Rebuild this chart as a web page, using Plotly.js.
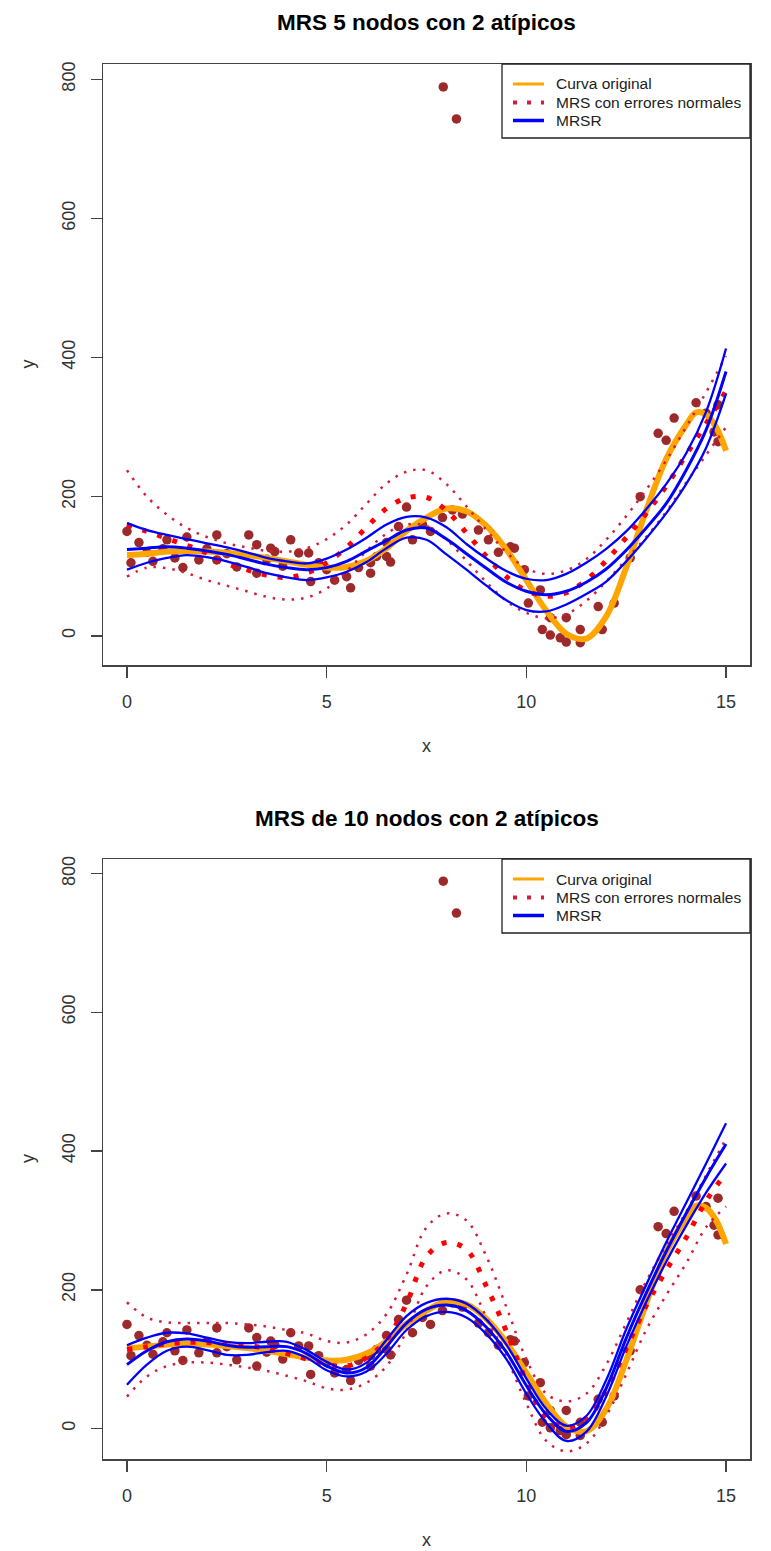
<!DOCTYPE html>
<html>
<head>
<meta charset="utf-8">
<script src="https://cdn.plot.ly/plotly-3.0.1.min.js"></script>
<style>html,body{margin:0;padding:0;background:#fff;}#chart{width:771px;height:1551px;}</style>
</head>
<body>
<div id="chart"></div>
<script>
// ---------- data ----------
const titles = ["MRS 5 nodos con 2 atípicos", "MRS de 10 nodos con 2 atípicos"];
const legendLabels = ["Curva original", "MRS con errores normales", "MRSR"];
const xTicks = [0, 5, 10, 15];
const yTicks = [0, 200, 400, 600, 800];

// observed points (same sample in both panels)
const ptsX = [0.0,0.1,0.3,0.5,0.65,0.9,1.0,1.2,1.4,1.5,1.8,2.0,2.25,2.25,2.5,2.75,3.05,3.25,3.25,3.5,3.6,3.7,3.9,4.1,4.3,4.55,4.6,4.8,5.0,5.2,5.5,5.6,5.8,6.1,6.1,6.25,6.5,6.5,6.6,6.8,7.0,7.15,7.4,7.6,7.9,8.15,8.4,8.8,9.05,9.3,9.6,9.7,9.95,10.05,10.35,10.4,10.6,10.6,10.85,11.0,11.0,11.35,11.35,11.8,11.9,12.2,12.6,12.85,13.3,13.5,13.7,14.25,14.5,14.7,14.8,14.8,7.92,8.25];
const ptsY = [150,105,134,120,107,125,138,112,98,142,109,125,145,109,118,99,145,131,90,110,126,121,100,138,119,119,78,105,95,80,85,69,98,105,90,114,134,114,106,157,185,138,160,150,170,181,175,152,138,120,128,126,95,47,66,9,26,1,-3,26,-9,-10,9,42,9,47,112,200,291,281,313,335,320,293,279,332,789,743];

// true curve
const xOrig = [0,0.5,1,1.5,2,2.5,3,3.5,4,4.5,5,5.5,6,6.5,7,7.5,8,8.5,9,9.5,10,10.5,11,11.5,12,12.5,13,13.5,14,14.25,14.5,14.75,15];
const yOrig = [116,118,121,122,121,119,116,112,107,102,98,99,108,126,151,170,183,179,158,124,80,36,3,-4,28,98,180,254,303,321,318,300,266];

// common grid for fitted curves
const xGrid = [0,0.5,1,1.5,2,2.5,3,3.5,4,4.5,5,5.5,6,6.5,7,7.5,8,8.5,9,9.5,10,10.5,11,11.5,12,12.5,13,13.5,14,14.5,15];

// panel 1: 5 knots
const mrs5    = [160,150,140,130,119,104,95,87,84,90,105,127,156,183,198,199,180,148,114,85,65,57,62,80,108,141,176,215,260,305,352];
const mrs5Up  = [238,200,174,155,142,133,127,122,121,126,139,160,190,219,236,238,218,186,152,120,97,89,94,110,138,172,210,252,300,350,402];
const mrs5Lo  = [85,98,97,90,80,72,64,56,52,55,68,93,122,147,160,158,138,108,77,50,33,25,31,50,78,110,142,178,220,260,300];
const mrsr5   = [124,126,128,126,122,117,110,103,98,95,98,107,122,137,152,155,139,118,97,77,64,59,64,77,96,123,155,190,238,296,380];
const mrsr5Up = [162,152,145,139,133,127,120,112,107,104,111,124,141,160,171,170,156,132,111,93,82,80,89,105,125,150,182,218,262,322,413];
const mrsr5Lo = [95,105,112,116,113,107,99,90,84,80,84,92,106,126,141,138,117,95,72,51,37,35,45,60,78,107,140,176,218,270,348];

// panel 2: 10 knots
const mrs10    = [114,118,122,124,124,122,120,115,108,100,92,90,102,128,180,248,268,258,205,140,68,15,2,12,55,115,177,228,275,328,368];
const mrs10Up  = [182,160,153,152,152,152,150,147,142,137,126,124,136,165,222,290,310,300,248,175,100,50,39,50,92,152,212,264,312,365,418];
const mrs10Lo  = [46,75,90,95,95,92,88,83,76,68,58,56,66,90,140,205,228,215,160,103,36,-18,-33,-22,18,78,142,192,238,290,320];
const mrsr10   = [92,112,125,129,126,120,117,118,118,108,90,80,88,118,152,172,178,170,146,110,62,20,-4,8,58,130,195,255,310,362,410];
const mrsr10Up = [120,131,138,137,131,125,123,125,125,113,96,85,95,128,162,181,187,180,157,121,72,28,4,18,70,143,207,268,325,382,440];
const mrsr10Lo = [63,92,112,118,113,106,106,110,112,102,84,75,82,108,142,162,168,160,136,100,50,8,-18,-5,46,118,182,240,292,340,382];

// ---------- styling ----------
const W = 771, H = 1551;
const C_PT = '#9c2a2a', C_OR = '#FFA500', C_RED = '#FF0000', C_BAND = '#d41c3c', C_BLUE = '#0000FF';
const FONT = 'Arial, "Liberation Sans", sans-serif';

function panelTraces(xa, ya, fit, up, lo, rfit, rup, rlo) {
  const base = {xaxis: xa, yaxis: ya, hoverinfo: 'skip', showlegend: false};
  const sp = {shape: 'spline', smoothing: 1};
  return [
    Object.assign({}, base, {x: ptsX, y: ptsY, mode: 'markers', type: 'scatter',
      marker: {color: C_PT, size: 9.5, line: {width: 0}}}),
    Object.assign({}, base, {x: xOrig, y: yOrig, mode: 'lines', type: 'scatter',
      line: Object.assign({color: C_OR, width: 6}, sp)}),
    Object.assign({}, base, {x: xGrid, y: up, mode: 'lines', type: 'scatter',
      line: Object.assign({color: C_BAND, width: 2.5, dash: '2.5px,7px'}, sp)}),
    Object.assign({}, base, {x: xGrid, y: lo, mode: 'lines', type: 'scatter',
      line: Object.assign({color: C_BAND, width: 2.5, dash: '2.5px,7px'}, sp)}),
    Object.assign({}, base, {x: xGrid, y: fit, mode: 'lines', type: 'scatter',
      line: Object.assign({color: C_RED, width: 5, dash: '5px,11px'}, sp)}),
    Object.assign({}, base, {x: xGrid, y: rup, mode: 'lines', type: 'scatter',
      line: Object.assign({color: C_BLUE, width: 2.3}, sp)}),
    Object.assign({}, base, {x: xGrid, y: rlo, mode: 'lines', type: 'scatter',
      line: Object.assign({color: C_BLUE, width: 2.3}, sp)}),
    Object.assign({}, base, {x: xGrid, y: rfit, mode: 'lines', type: 'scatter',
      line: Object.assign({color: C_BLUE, width: 3}, sp)})
  ];
}

const data = [].concat(
  panelTraces('x', 'y', mrs5, mrs5Up, mrs5Lo, mrsr5, mrsr5Up, mrsr5Lo),
  panelTraces('x2', 'y2', mrs10, mrs10Up, mrs10Lo, mrsr10, mrsr10Up, mrsr10Lo)
);

const px = v => v / W;
const py = v => 1 - v / H;
const plotL = 103, plotR = 750;
const panels = [{top: 64, bottom: 665}, {top: 859, bottom: 1459}];

function xAxis(anchor) {
  return {domain: [px(plotL), px(plotR)], range: [-0.6, 15.6], anchor: anchor,
    tickvals: xTicks, ticktext: xTicks.map(String), ticks: 'outside', ticklen: 11, tickwidth: 1.5,
    tickcolor: '#444', showline: true, mirror: true, linecolor: '#444', linewidth: 1.5,
    showgrid: false, zeroline: false, ticklabelstandoff: 9,
    tickfont: {family: FONT, size: 18, color: '#333'}};
}
function yAxis(anchor, dom, range) {
  return {domain: dom, range: range, anchor: anchor,
    tickvals: yTicks, ticktext: yTicks.map(String), ticks: 'outside', ticklen: 11, tickwidth: 1.5,
    tickcolor: '#444', showline: true, mirror: true, linecolor: '#444', linewidth: 1.5,
    showgrid: false, zeroline: false, tickangle: -90, ticklabelstandoff: 8,
    tickfont: {family: FONT, size: 18, color: '#333'}};
}

const annotations = [];
const shapes = [];
panels.forEach((p, i) => {
  const cx = (plotL + plotR) / 2;
  const cy = (p.top + p.bottom) / 2;
  annotations.push({xref: 'paper', yref: 'paper', x: px(cx), y: py(p.top - 41), text: '<b>' + titles[i] + '</b>',
    showarrow: false, xanchor: 'center', yanchor: 'middle', font: {family: FONT, size: 22.5, color: '#000'}});
  annotations.push({xref: 'paper', yref: 'paper', x: px(cx), y: py(p.bottom + 81), text: 'x',
    showarrow: false, xanchor: 'center', yanchor: 'middle', font: {family: FONT, size: 18, color: '#333'}});
  annotations.push({xref: 'paper', yref: 'paper', x: px(28), y: py(cy), text: 'y', textangle: -90,
    showarrow: false, xanchor: 'center', yanchor: 'middle', font: {family: FONT, size: 18, color: '#333'}});
  // legend box
  const lt = p.top, lb = p.top + 74, ll = 502, lr = plotR;
  shapes.push({type: 'rect', xref: 'paper', yref: 'paper', x0: px(ll), x1: px(lr), y0: py(lb), y1: py(lt),
    line: {color: '#222', width: 1.3}, fillcolor: '#fff', layer: 'above'});
  const rows = [lt + 20, lt + 38.5, lt + 56.5];
  const styles = [
    {color: C_OR, width: 3},
    {color: '#d41c3c', width: 4, dash: '4px,10px'},
    {color: C_BLUE, width: 3.5}
  ];
  rows.forEach((ry, k) => {
    shapes.push({type: 'line', xref: 'paper', yref: 'paper', x0: px(513), x1: px(544), y0: py(ry), y1: py(ry),
      line: styles[k], layer: 'above'});
    annotations.push({xref: 'paper', yref: 'paper', x: px(554), y: py(ry), text: legendLabels[k],
      showarrow: false, xanchor: 'left', yanchor: 'middle', font: {family: FONT, size: 15.5, color: '#222'}});
  });
});

const layout = {
  width: W, height: H,
  margin: {l: 0, r: 0, t: 0, b: 0},
  paper_bgcolor: '#fff', plot_bgcolor: '#fff',
  showlegend: false,
  xaxis: xAxis('y'),
  yaxis: yAxis('x', [py(panels[0].bottom), py(panels[0].top)], [-42, 822]),
  xaxis2: xAxis('y2'),
  yaxis2: yAxis('x2', [py(panels[1].bottom), py(panels[1].top)], [-44, 821]),
  annotations: annotations,
  shapes: shapes
};

Plotly.newPlot('chart', data, layout, {displayModeBar: false, staticPlot: true});
</script>
</body>
</html>
